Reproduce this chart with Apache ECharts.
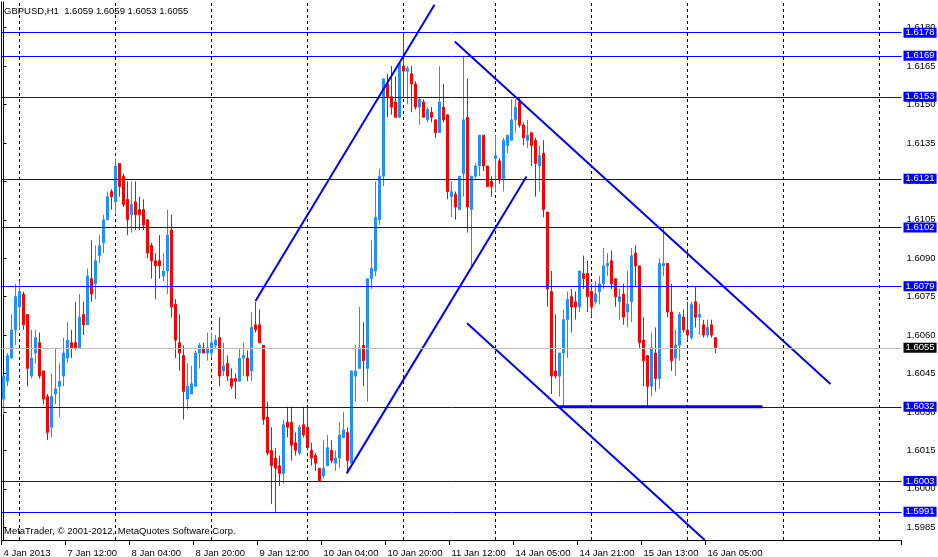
<!DOCTYPE html>
<html><head><meta charset="utf-8">
<script src="https://cdn.jsdelivr.net/npm/echarts@6/dist/echarts.min.js"></script>
<style>html,body{margin:0;padding:0;background:#fff}#c{width:938px;height:557px}</style>
</head><body><div id="c"></div>
<script>
// ---- data ----
const sessions = [['4 Jan',19,4],['7 Jan',0,24],['8 Jan',0,24],['9 Jan',0,24],['10 Jan',0,24],['11 Jan',0,23],['14 Jan',0,24],['15 Jan',0,24],['16 Jan',0,24],['17 Jan',0,24],['18 Jan',0,6]];
const tickIdx = [0,16,32,48,64,80,96,112,128,144,160,176];
const tickLabels = ['4 Jan 2013','7 Jan 12:00','8 Jan 04:00','8 Jan 20:00','9 Jan 12:00','10 Jan 04:00','10 Jan 20:00','11 Jan 12:00','14 Jan 05:00','14 Jan 21:00','15 Jan 13:00','16 Jan 05:00'];
const dayIdx = [4,28,52,76,100,123,147,171,195,219];
const yTicks = [1.5985,1.6000,1.6015,1.6030,1.6045,1.6060,1.6075,1.6090,1.6105,1.6120,1.6135,1.6150,1.6165,1.6180];
const yMin = 1.5980, yMax = 1.6190;

const open = [1.6035,1.6042,1.6051,1.6062,1.6071,1.6076,1.6068,1.6044,1.6053,1.6057,
1.6046,1.6036,1.6024,1.6037,1.6040,1.6044,1.6051,1.6057,1.6057,1.6055,
1.6068,1.6064,1.6082,1.6080,1.6091,1.6096,1.6105,1.6116,1.6112,1.6127,
1.6122,1.6113,1.6107,1.6112,1.6109,1.6109,1.6105,1.6095,1.6089,1.6089,
1.6083,1.6085,1.6101,1.6072,1.6057,1.6052,1.6035,1.6037,1.6040,1.6053,
1.6055,1.6053,1.6053,1.6056,1.6059,1.6046,1.6049,1.6043,1.6043,1.6042,
1.6051,1.6051,1.6046,1.6064,1.6064,1.6056,1.6028,1.6015,1.6012,1.6009,
1.6006,1.6026,1.6026,1.6018,1.6014,1.6025,1.6024,1.6015,1.6013,1.6008,
1.6005,1.6009,1.6015,1.6010,1.6012,1.6020,1.6022,1.6010,1.6044,1.6047,
1.6056,1.6047,1.6082,1.6085,1.6105,1.6122,1.6158,1.6153,1.6151,1.6145,
1.6165,1.6163,1.6162,1.6158,1.6149,1.6151,1.6144,1.6147,1.6144,1.6139,
1.6149,1.6146,1.6114,1.6115,1.6109,1.6123,1.6145,1.6109,1.6122,1.6126,
1.6138,1.6126,1.6120,1.6129,1.6128,1.6121,1.6134,1.6136,1.6144,1.6151,
1.6142,1.6136,1.6139,1.6136,1.6126,1.6131,1.6108,1.6077,1.6046,1.6044,
1.6053,1.6066,1.6075,1.6073,1.6071,1.6084,1.6084,1.6077,1.6073,1.6077,
1.6080,1.6087,1.6089,1.6082,1.6073,1.6076,1.6069,1.6073,1.6092,1.6087,
1.6058,1.6052,1.6040,1.6053,1.6043,1.6087,1.6088,1.6069,1.6051,1.6056,
1.6067,1.6062,1.6059,1.6073,1.6067,1.6064,1.6060,1.6064,1.6059];
const high = [1.6044,1.6053,1.6068,1.6080,1.6081,1.6077,1.6068,1.6062,1.6062,1.6061,
1.6046,1.6037,1.6045,1.6055,1.6049,1.6059,1.6065,1.6062,1.6073,1.6076,
1.6073,1.6086,1.6097,1.6095,1.6099,1.6107,1.6116,1.6117,1.6129,1.6127,
1.6123,1.6120,1.6120,1.6120,1.6114,1.6113,1.6105,1.6096,1.6092,1.6099,
1.6092,1.6109,1.6107,1.6074,1.6068,1.6056,1.6049,1.6048,1.6054,1.6057,
1.6057,1.6061,1.6061,1.6060,1.6067,1.6057,1.6052,1.6047,1.6045,1.6055,
1.6057,1.6054,1.6069,1.6073,1.6070,1.6056,1.6034,1.6024,1.6016,1.6013,
1.6027,1.6032,1.6032,1.6022,1.6025,1.6032,1.6032,1.6018,1.6014,1.6008,
1.6019,1.6021,1.6019,1.6015,1.6026,1.6030,1.6024,1.6046,1.6056,1.6071,
1.6065,1.6082,1.6097,1.6120,1.6125,1.6160,1.6162,1.6165,1.6161,1.6166,
1.6178,1.6165,1.6165,1.6159,1.6153,1.6152,1.6149,1.6149,1.6144,1.6165,
1.6158,1.6146,1.6120,1.6116,1.6122,1.6169,1.6160,1.6122,1.6127,1.6138,
1.6138,1.6126,1.6122,1.6138,1.6129,1.6137,1.6138,1.6152,1.6152,1.6153,
1.6143,1.6144,1.6139,1.6137,1.6134,1.6136,1.6108,1.6085,1.6068,1.6053,
1.6070,1.6077,1.6078,1.6077,1.6085,1.6091,1.6089,1.6080,1.6081,1.6083,
1.6094,1.6092,1.6093,1.6082,1.6078,1.6080,1.6085,1.6094,1.6095,1.6087,
1.6067,1.6052,1.6061,1.6063,1.6090,1.6102,1.6088,1.6080,1.6062,1.6069,
1.6070,1.6073,1.6073,1.6079,1.6072,1.6066,1.6066,1.6066,1.6059];
const low = [1.6029,1.6040,1.6051,1.6056,1.6062,1.6062,1.6040,1.6043,1.6049,1.6043,
1.6033,1.6019,1.6020,1.6033,1.6028,1.6040,1.6049,1.6051,1.6054,1.6055,
1.6060,1.6064,1.6073,1.6074,1.6088,1.6092,1.6105,1.6109,1.6107,1.6114,
1.6110,1.6099,1.6100,1.6101,1.6101,1.6101,1.6090,1.6082,1.6074,1.6082,
1.6081,1.6076,1.6067,1.6051,1.6046,1.6027,1.6031,1.6037,1.6040,1.6047,
1.6053,1.6050,1.6051,1.6055,1.6040,1.6044,1.6042,1.6039,1.6035,1.6042,
1.6044,1.6042,1.6042,1.6061,1.6057,1.6025,1.6013,1.5994,1.5991,1.6001,
1.6002,1.6020,1.6011,1.6013,1.6013,1.6020,1.6015,1.6009,1.6007,1.6003,
1.6004,1.6009,1.6010,1.6007,1.6008,1.6020,1.6006,1.6010,1.6034,1.6047,
1.6040,1.6034,1.6078,1.6083,1.6103,1.6118,1.6145,1.6146,1.6145,1.6145,
1.6153,1.6150,1.6147,1.6148,1.6142,1.6145,1.6143,1.6143,1.6137,1.6139,
1.6143,1.6113,1.6106,1.6105,1.6109,1.6114,1.6100,1.6087,1.6121,1.6122,
1.6124,1.6118,1.6114,1.6116,1.6119,1.6116,1.6131,1.6136,1.6139,1.6141,
1.6134,1.6133,1.6126,1.6114,1.6116,1.6106,1.6071,1.6037,1.6043,1.6036,
1.6032,1.6051,1.6061,1.6066,1.6069,1.6078,1.6069,1.6067,1.6072,1.6072,
1.6078,1.6083,1.6078,1.6071,1.6066,1.6064,1.6063,1.6065,1.6079,1.6055,
1.6040,1.6032,1.6036,1.6038,1.6039,1.6083,1.6067,1.6046,1.6044,1.6050,
1.6061,1.6058,1.6058,1.6063,1.6060,1.6059,1.6059,1.6059,1.6053];
const close = [1.6044,1.6052,1.6062,1.6075,1.6077,1.6064,1.6047,1.6051,1.6059,1.6044,
1.6035,1.6022,1.6036,1.6039,1.6042,1.6053,1.6058,1.6055,1.6055,1.6067,
1.6064,1.6083,1.6076,1.6089,1.6095,1.6105,1.6114,1.6114,1.6126,1.6118,
1.6111,1.6105,1.6111,1.6107,1.6107,1.6103,1.6092,1.6089,1.6087,1.6087,
1.6085,1.6099,1.6071,1.6058,1.6053,1.6038,1.6040,1.6041,1.6053,1.6056,
1.6053,1.6055,1.6057,1.6058,1.6044,1.6048,1.6044,1.6040,1.6042,1.6051,
1.6052,1.6044,1.6063,1.6062,1.6057,1.6027,1.6014,1.6009,1.6008,1.6006,
1.6025,1.6024,1.6017,1.6015,1.6024,1.6021,1.6016,1.6012,1.6010,1.6003,
1.6008,1.6016,1.6011,1.6012,1.6021,1.6023,1.6011,1.6046,1.6046,1.6055,
1.6050,1.6082,1.6086,1.6106,1.6122,1.6160,1.6153,1.6149,1.6145,1.6166,
1.6163,1.6164,1.6158,1.6149,1.6152,1.6145,1.6148,1.6145,1.6139,1.6151,
1.6144,1.6116,1.6116,1.6110,1.6122,1.6144,1.6110,1.6122,1.6126,1.6138,
1.6126,1.6118,1.6118,1.6130,1.6121,1.6136,1.6138,1.6144,1.6149,1.6142,
1.6137,1.6138,1.6134,1.6127,1.6130,1.6109,1.6078,1.6044,1.6044,1.6053,
1.6066,1.6074,1.6071,1.6071,1.6085,1.6082,1.6075,1.6071,1.6076,1.6080,
1.6087,1.6088,1.6080,1.6075,1.6075,1.6067,1.6072,1.6091,1.6087,1.6057,
1.6050,1.6040,1.6055,1.6043,1.6088,1.6088,1.6069,1.6050,1.6056,1.6068,
1.6062,1.6060,1.6072,1.6067,1.6068,1.6060,1.6063,1.6060,1.6055];

const levels = [1.6178,1.6169,1.6153,1.6121,1.6102,1.6079,1.6032,1.6003,1.5991];
const lastPrice = 1.6055;
// trend lines: [[bar index, price],[bar index, price]]
const trendLines = [
  [[63, 1.60733], [107.75, 1.61889]],
  [[85.8, 1.60060], [130.75, 1.61219]],
  [[112.8, 1.61746], [206.75, 1.60409]],
  [[115.9, 1.60646], [175.3, 1.59800]]
];
const supportSeg = [[138.6, 1.6032], [189.75, 1.6032]];
const headerText = 'GBPUSD,H1  1.6059 1.6059 1.6053 1.6055';
const footerText = 'MetaTrader, \u00A9 2001-2012, MetaQuotes Software Corp.';

// ---- build ----
const categories = [];
sessions.forEach(([d, h0, n]) => { for (let k = 0; k < n; k++) categories.push(d + ' ' + String(h0 + k).padStart(2, '0') + ':00'); });
const candles = open.map((o, i) => [o, close[i], low[i], high[i]]);

const FONT = "'Liberation Sans', Arial, sans-serif";
const BLUE = '#0000FF';
const chart = echarts.init(document.getElementById('c'), null, {renderer: 'canvas'});

const series = [];
dayIdx.forEach(d => series.push({
  type: 'line', xAxisIndex: 1, yAxisIndex: 0, data: [[d, yMin], [d, yMax]],
  symbol: 'none', silent: true, z: 1, animation: false,
  lineStyle: {color: '#000', width: 1, type: [3, 3]}
}));
series.push({
  type: 'candlestick', xAxisIndex: 0, yAxisIndex: 0, data: candles, z: 2,
  barWidth: 3, silent: true, animation: false,
  itemStyle: {color: '#1E90FF', color0: '#FF0000', borderColor: '#1E90FF', borderColor0: '#FF0000', borderWidth: 1},
  emphasis: {disabled: true},
  markLine: {
    symbol: 'none', silent: true, animation: false, precision: 4,
    lineStyle: {color: BLUE, width: 1, type: 'solid'},
    label: {
      position: 'end', distance: 2, formatter: p => Number(p.value).toFixed(4),
      backgroundColor: BLUE, color: '#fff', fontSize: 9.5, fontFamily: FONT,
      lineHeight: 9, padding: [1, 2, 0, 2]
    },
    emphasis: {disabled: true},
    data: levels.map(v => ({yAxis: v})).concat([{
      yAxis: lastPrice, lineStyle: {color: '#C0C0C0', width: 1, type: 'solid'},
      label: {backgroundColor: '#000', color: '#fff'}
    }])
  }
});
trendLines.forEach(seg => series.push({
  type: 'line', xAxisIndex: 1, yAxisIndex: 0, data: seg, symbol: 'none', silent: true, z: 3,
  animation: false, lineStyle: {color: BLUE, width: 2}
}));
series.push({
  type: 'line', xAxisIndex: 1, yAxisIndex: 0, data: supportSeg, symbol: 'none', silent: true, z: 3,
  animation: false, lineStyle: {color: BLUE, width: 3}
});

chart.setOption({
  animation: false,
  backgroundColor: '#fff',
  textStyle: {fontFamily: FONT},
  title: {text: headerText, left: 4, top: 6, padding: 0,
    textStyle: {fontSize: 9.5, fontWeight: 'normal', color: '#000', fontFamily: FONT}},
  graphic: [{type: 'text', left: 4, top: 526, silent: true,
    style: {text: footerText, fill: '#000', fontSize: 9.5, fontFamily: FONT}}],
  grid: {left: 1.5, right: 36.5, top: 2, bottom: 17, containLabel: false, outerBoundsMode: 'none'},
  xAxis: [
    {type: 'category', data: categories, boundaryGap: true,
      axisLine: {show: true, lineStyle: {color: '#000', width: 1}},
      axisTick: {show: true, length: 5, interval: (i) => tickIdx.includes(i), lineStyle: {color: '#000'}},
      axisLabel: {interval: (i) => tickIdx.includes(i), formatter: (v, i) => tickLabels[tickIdx.indexOf(i)] || '',
        align: 'left', margin: 8, color: '#000', fontSize: 9.5, fontFamily: FONT},
      splitLine: {show: false}},
    {type: 'value', min: -0.5, max: categories.length - 0.5, show: false}
  ],
  yAxis: [
    {type: 'value', position: 'right', min: yMin, max: yMax,
      axisLine: {show: true, lineStyle: {color: '#000', width: 1}},
      axisTick: {show: true, length: 3, customValues: yTicks, lineStyle: {color: '#000'}},
      axisLabel: {customValues: yTicks, formatter: v => Number(v).toFixed(4), margin: 5, color: '#000', fontSize: 9.5, fontFamily: FONT},
      splitLine: {show: false}},
    {type: 'value', position: 'left', min: yMin, max: yMax,
      axisLine: {show: true, lineStyle: {color: '#000', width: 1}},
      axisTick: {show: false}, axisLabel: {show: false}, splitLine: {show: false}}
  ],
  series: series
});
</script>
</body></html>
